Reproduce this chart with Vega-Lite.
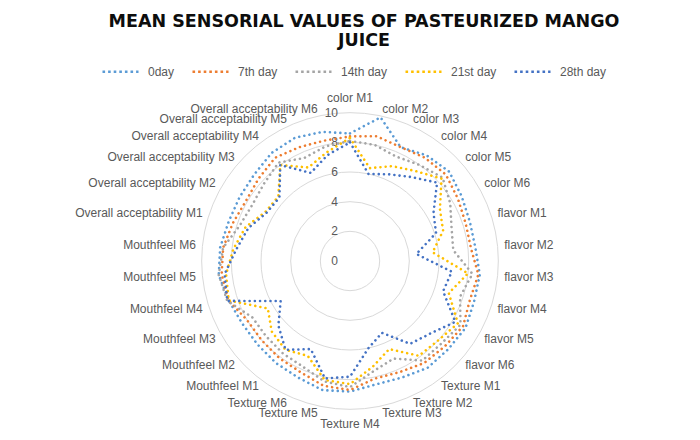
{
  "$schema": "https://vega.github.io/schema/vega-lite/v6.json",
  "width": 356,
  "height": 356,
  "autosize": "none",
  "padding": {"left": 172, "right": 172, "top": 83, "bottom": 1},
  "background": "white",
  "config": {"view": {"stroke": null}, "font": "Liberation Sans"},
  "title": {
    "text": ["MEAN SENSORIAL  VALUES OF PASTEURIZED MANGO", "JUICE"],
    "font": "DejaVu Sans",
    "fontSize": 17.5,
    "fontWeight": "bold",
    "color": "#0d0d0d",
    "lineHeight": 18.5,
    "anchor": "middle",
    "dx": 14,
    "offset": 3
  },
  "data": {
    "values": [
      {"attribute": "color M1", "0day": 8.6, "7th day": 8.4, "14th day": 8.1, "21st day": 8.3, "28th day": 8.0},
      {"attribute": "color M2", "0day": 9.9, "7th day": 8.6, "14th day": 8.0, "21st day": 6.4, "28th day": 6.0},
      {"attribute": "color M3", "0day": 8.4, "7th day": 8.4, "14th day": 7.7, "21st day": 7.0, "28th day": 6.4},
      {"attribute": "color M4", "0day": 8.8, "7th day": 8.6, "14th day": 8.0, "21st day": 7.5, "28th day": 7.0},
      {"attribute": "color M5", "0day": 9.0, "7th day": 8.7, "14th day": 8.4, "21st day": 8.3, "28th day": 7.9},
      {"attribute": "color M6", "0day": 8.7, "7th day": 8.4, "14th day": 7.8, "21st day": 7.0, "28th day": 6.5},
      {"attribute": "flavor M1", "0day": 8.5, "7th day": 8.2, "14th day": 7.2, "21st day": 6.6, "28th day": 6.1},
      {"attribute": "flavor M2", "0day": 8.5, "7th day": 8.2, "14th day": 7.0, "21st day": 5.6, "28th day": 4.5},
      {"attribute": "flavor M3", "0day": 8.8, "7th day": 8.7, "14th day": 8.3, "21st day": 8.0, "28th day": 6.9},
      {"attribute": "flavor M4", "0day": 8.8, "7th day": 8.5, "14th day": 7.8, "21st day": 7.0, "28th day": 6.6},
      {"attribute": "flavor M5", "0day": 9.0, "7th day": 8.8, "14th day": 8.6, "21st day": 8.4, "28th day": 8.2},
      {"attribute": "flavor M6", "0day": 8.9, "7th day": 8.6, "14th day": 8.3, "21st day": 8.0, "28th day": 7.3},
      {"attribute": "Texture M1", "0day": 8.9, "7th day": 8.5, "14th day": 8.3, "21st day": 7.9, "28th day": 6.9},
      {"attribute": "Texture M2", "0day": 8.6, "7th day": 8.2, "14th day": 7.2, "21st day": 6.5, "28th day": 5.3},
      {"attribute": "Texture M3", "0day": 8.5, "7th day": 8.1, "14th day": 7.6, "21st day": 7.3, "28th day": 6.0},
      {"attribute": "Texture M4", "0day": 8.8, "7th day": 8.7, "14th day": 8.5, "21st day": 8.3, "28th day": 7.8},
      {"attribute": "Texture M5", "0day": 8.9, "7th day": 8.6, "14th day": 8.3, "21st day": 8.2, "28th day": 8.1},
      {"attribute": "Texture M6", "0day": 8.6, "7th day": 8.2, "14th day": 7.8, "21st day": 7.0, "28th day": 6.5},
      {"attribute": "Mouthfeel M1", "0day": 8.5, "7th day": 8.1, "14th day": 7.7, "21st day": 7.4, "28th day": 7.4},
      {"attribute": "Mouthfeel M2", "0day": 8.4, "7th day": 8.0, "14th day": 7.6, "21st day": 7.1, "28th day": 6.5},
      {"attribute": "Mouthfeel M3", "0day": 8.4, "7th day": 8.0, "14th day": 7.6, "21st day": 6.4, "28th day": 5.4},
      {"attribute": "Mouthfeel M4", "0day": 8.6, "7th day": 8.6, "14th day": 8.7, "21st day": 8.6, "28th day": 8.7},
      {"attribute": "Mouthfeel M5", "0day": 8.9, "7th day": 8.7, "14th day": 8.9, "21st day": 8.4, "28th day": 8.5},
      {"attribute": "Mouthfeel M6", "0day": 8.8, "7th day": 8.6, "14th day": 8.6, "21st day": 7.9, "28th day": 7.7},
      {"attribute": "Overall acceptability M1", "0day": 8.6, "7th day": 8.3, "14th day": 7.8, "21st day": 7.4, "28th day": 7.2},
      {"attribute": "Overall acceptability M2", "0day": 8.6, "7th day": 8.1, "14th day": 7.6, "21st day": 6.6, "28th day": 6.5},
      {"attribute": "Overall acceptability M3", "0day": 8.7, "7th day": 8.3, "14th day": 7.8, "21st day": 6.5, "28th day": 6.4},
      {"attribute": "Overall acceptability M4", "0day": 9.0, "7th day": 8.6, "14th day": 8.2, "21st day": 8.0, "28th day": 8.0},
      {"attribute": "Overall acceptability M5", "0day": 9.1, "7th day": 8.4, "14th day": 7.6, "21st day": 6.9, "28th day": 6.5},
      {"attribute": "Overall acceptability M6", "0day": 8.9, "7th day": 8.3, "14th day": 7.9, "21st day": 7.5, "28th day": 7.3}
    ]
  },
  "layer": [
    {
      "data": {"values": [{"r": 2}, {"r": 4}, {"r": 6}, {"r": 8}, {"r": 10}]},
      "mark": {"type": "point", "shape": "circle", "filled": false, "stroke": "#d9d9d9", "strokeWidth": 1, "opacity": 1},
      "encoding": {
        "x": {"datum": 0, "type": "quantitative", "scale": {"domain": [-12, 12]}, "axis": null},
        "y": {"datum": 0, "type": "quantitative", "scale": {"domain": [-12, 12]}, "axis": null},
        "size": {"field": "r", "type": "quantitative", "scale": {"type": "pow", "exponent": 2, "domain": [0, 12], "range": [0, 126736], "zero": true}, "legend": null}
      }
    },
    {
      "data": {"values": [{"r": 0}, {"r": 2}, {"r": 4}, {"r": 6}, {"r": 8}, {"r": 10}]},
      "mark": {"type": "text", "align": "right", "baseline": "middle", "dx": -12, "fontSize": 12, "color": "#595959"},
      "encoding": {
        "x": {"datum": 0, "type": "quantitative", "scale": {"domain": [-12, 12]}, "axis": null},
        "y": {"field": "r", "type": "quantitative", "scale": {"domain": [-12, 12]}, "axis": null},
        "text": {"field": "r", "type": "quantitative"}
      }
    },
    {
      "transform": [
        {"window": [{"op": "row_number", "as": "rn"}]},
        {"fold": ["0day", "7th day", "14th day", "21st day", "28th day"], "as": ["series", "value"]},
        {"calculate": "(datum.rn - 1) * 2 * PI / 30", "as": "th"},
        {"calculate": "datum.value * sin(datum.th)", "as": "px"},
        {"calculate": "datum.value * cos(datum.th)", "as": "py"}
      ],
      "mark": {"type": "line", "interpolate": "linear-closed", "strokeWidth": 2.6, "strokeDash": [0.01, 5.2], "strokeCap": "round"},
      "encoding": {
        "x": {"field": "px", "type": "quantitative", "scale": {"domain": [-12, 12]}, "axis": null},
        "y": {"field": "py", "type": "quantitative", "scale": {"domain": [-12, 12]}, "axis": null},
        "order": {"field": "rn", "type": "quantitative"},
        "color": {
          "field": "series",
          "type": "nominal",
          "scale": {
            "domain": ["0day", "7th day", "14th day", "21st day", "28th day"],
            "range": ["#5B9BD5", "#ED7D31", "#A5A5A5", "#FFC000", "#4472C4"]
          },
          "legend": {
            "title": null,
            "orient": "none",
            "legendX": -71,
            "legendY": -31,
            "direction": "horizontal",
            "symbolType": "stroke",
            "symbolStrokeWidth": 2.6,
            "symbolDash": [2.6, 3],
            "symbolSize": 1296,
            "labelFontSize": 12,
            "labelColor": "#595959",
            "labelFont": "Liberation Sans",
            "labelOffset": 8,
            "columnPadding": 12
          }
        }
      }
    },
    {
      "transform": [
        {"window": [{"op": "row_number", "as": "rn"}]},
        {"filter": "datum.rn >= 2 && datum.rn <= 15"},
        {"calculate": "(datum.rn - 1) * 2 * PI / 30", "as": "th"},
        {"calculate": "10.45 * sin(datum.th)", "as": "lx"},
        {"calculate": "10.45 * cos(datum.th)", "as": "ly"}
      ],
      "mark": {"type": "text", "align": "left", "baseline": "middle", "fontSize": 12, "color": "#595959"},
      "encoding": {
        "x": {"field": "lx", "type": "quantitative", "scale": {"domain": [-12, 12]}, "axis": null},
        "y": {"field": "ly", "type": "quantitative", "scale": {"domain": [-12, 12]}, "axis": null},
        "text": {"field": "attribute"}
      }
    },
    {
      "transform": [
        {"window": [{"op": "row_number", "as": "rn"}]},
        {"filter": "datum.rn >= 17"},
        {"calculate": "(datum.rn - 1) * 2 * PI / 30", "as": "th"},
        {"calculate": "10.45 * sin(datum.th)", "as": "lx"},
        {"calculate": "10.45 * cos(datum.th)", "as": "ly"}
      ],
      "mark": {"type": "text", "align": "right", "baseline": "middle", "fontSize": 12, "color": "#595959"},
      "encoding": {
        "x": {"field": "lx", "type": "quantitative", "scale": {"domain": [-12, 12]}, "axis": null},
        "y": {"field": "ly", "type": "quantitative", "scale": {"domain": [-12, 12]}, "axis": null},
        "text": {"field": "attribute"}
      }
    },
    {
      "transform": [
        {"window": [{"op": "row_number", "as": "rn"}]},
        {"filter": "datum.rn == 1 || datum.rn == 16"},
        {"calculate": "(datum.rn - 1) * 2 * PI / 30", "as": "th"},
        {"calculate": "11 * sin(datum.th)", "as": "lx"},
        {"calculate": "11 * cos(datum.th)", "as": "ly"}
      ],
      "mark": {"type": "text", "align": "center", "baseline": "middle", "fontSize": 12, "color": "#595959"},
      "encoding": {
        "x": {"field": "lx", "type": "quantitative", "scale": {"domain": [-12, 12]}, "axis": null},
        "y": {"field": "ly", "type": "quantitative", "scale": {"domain": [-12, 12]}, "axis": null},
        "text": {"field": "attribute"}
      }
    }
  ]
}
